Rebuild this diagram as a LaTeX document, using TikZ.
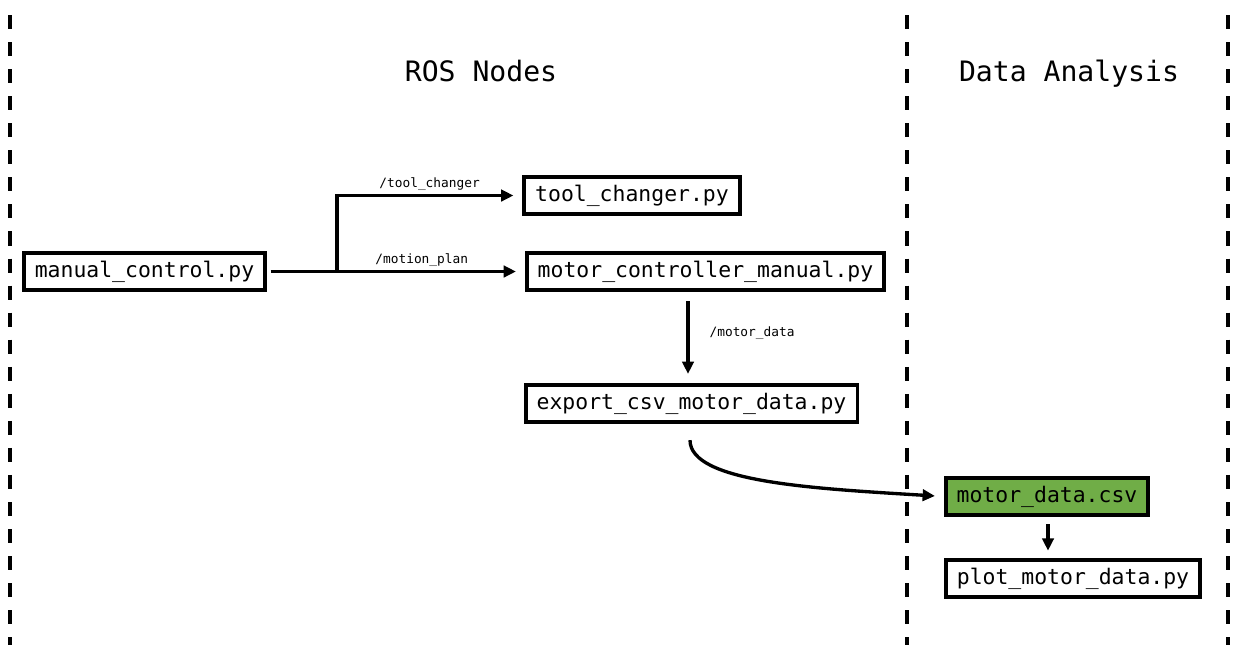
\documentclass[tikz,border=0pt]{standalone}
\usepackage{fontspec}
\setmonofont{DejaVu Sans Mono}
\usetikzlibrary{arrows.meta,calc,positioning}

\definecolor{csvgreen}{RGB}{112,173,71}

\begin{document}
\begin{tikzpicture}[x=0.02cm,y=-0.02cm,
	every node/.style={font=\ttfamily},
	file/.style={draw,line width=2.2pt,inner xsep=6.3pt,minimum height=21.5pt,font=\ttfamily\fontsize{12.2}{14}\selectfont},
	topic/.style={font=\ttfamily\fontsize{7.3}{9}\selectfont},
	area/.style={font=\ttfamily\fontsize{16}{19}\selectfont},
	lane/.style={line width=2.4pt,dash pattern=on 8pt off 7.4pt},
	>={Triangle[length=7pt,width=6.5pt]}, arr/.style={->,line width=1.9pt}]
\useasboundingbox (0,0) rectangle (1240,657);

% lanes
\foreach \x in {10,907,1228} {
	\draw[lane] (\x,15) -- (\x,645);
};
\node[area] (ros) at (481,71) {ROS Nodes};
\node[area] (ana) at (1069,74) {Data Analysis};

% ros nodes
\node[file] (manual) at (144.5,271.5) {manual\_control.py};
\node[file] (tool) at (632,195.5) {tool\_changer.py};
\node[file] (motor) at (705.5,271.5) {motor\_controller\_manual.py};
\node[file] (export) at (691.5,403.5) {export\_csv\_motor\_data.py};

% data analysis
\node[file,fill=csvgreen] (csv) at (1047,496.5) {motor\_data.csv};
\node[file] (plot) at (1073,578.5) {plot\_motor\_data.py};

\coordinate (split) at (337,271.5);

\draw[arr,shorten <=2pt,shorten >=5pt] (manual) -- (motor)
	node[topic,pos=0.6,above=-1.5pt] (motionlbl) {/motion\_plan};
\draw[arr,shorten >=5pt] (split) |- (tool)
	node[topic,pos=0.75,above=-1.5pt] (toollbl) {/tool\_changer};
\draw[arr,shorten <=5pt,shorten >=5pt] (motor.south -| 688,0) -- (export.north -| 688,0)
	node[topic,pos=0.45,right=8pt] (datalbl) {/motor\_data};
\draw[arr,shorten <=9pt,shorten >=5pt] (export.south -| 690,0) .. controls +(0,58) and +(-130,-8) .. (csv.west);
\draw[arr,shorten <=4pt,shorten >=4pt] (csv.south -| 1048,0) -- (plot.north -| 1048,0);

\end{tikzpicture}
\end{document}
